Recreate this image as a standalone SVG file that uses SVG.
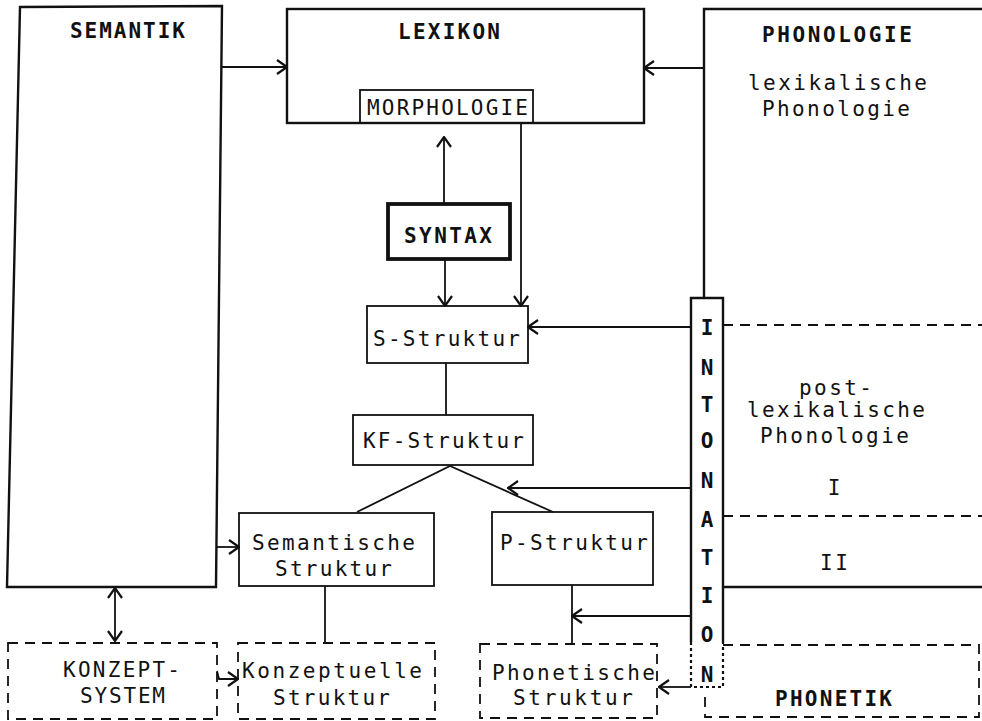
<svg xmlns="http://www.w3.org/2000/svg" width="982" height="721" viewBox="0 0 982 721">
<style>
text{font-family:"DejaVu Sans Mono","Liberation Mono",monospace;font-size:21px;fill:#111}
.b{font-weight:bold}
.box{fill:none;stroke:#111;stroke-width:2.4}
.thin{fill:none;stroke:#111;stroke-width:1.8}
.thick{fill:none;stroke:#111;stroke-width:3.8}
.dash{fill:none;stroke:#111;stroke-width:1.8;stroke-dasharray:10 7}
.dot{fill:none;stroke:#111;stroke-width:2.2;stroke-dasharray:3 3}
.ln{fill:none;stroke:#111;stroke-width:1.8}
.mid{text-anchor:middle}
</style>
<defs>
<marker id="ah" viewBox="0 0 12 16" refX="11" refY="8" markerWidth="12" markerHeight="16" markerUnits="userSpaceOnUse" orient="auto-start-reverse">
<path d="M1,1 L11,8 L1,15" fill="none" stroke="#111" stroke-width="2.2"/>
</marker>
</defs>
<rect width="982" height="721" fill="#fff"/>

<g id="semantik">
<path class="box" d="M20,7 L222,6 L216,587 L7,587 Z"/>
<text class="b" x="70" y="38" textLength="115">SEMANTIK</text>
</g>

<g id="lexikon">
<rect class="box" x="287" y="9" width="357" height="114"/>
<text class="b" x="398" y="39" textLength="102">LEXIKON</text>
</g>

<g id="morphologie">
<rect class="thin" x="360" y="90" width="173" height="33" fill="#fff"/>
<text x="367" y="115" textLength="161">MORPHOLOGIE</text>
</g>

<g id="phonologie">
<path class="box" d="M982,9 L704,9 L704,298"/>
<path class="dash" d="M723,325 L982,325"/>
<path class="dash" d="M723,516 L982,516"/>
<path class="box" d="M723,587 L982,587"/>
<text class="b" x="762" y="42" textLength="150">PHONOLOGIE</text>
<text x="748" y="90" textLength="179">lexikalische</text>
<text x="762" y="116" textLength="148">Phonologie</text>
<text x="799" y="395" textLength="73">post-</text>
<text x="747" y="417" textLength="178">lexikalische</text>
<text x="760" y="443" textLength="149">Phonologie</text>
<text class="mid" x="834" y="495">I</text>
<text x="820" y="570" textLength="28">II</text>
</g>

<g id="intonation">
<path class="box" d="M691,642 L691,298 L723,298 L723,643"/>
<path class="dot" d="M691,642 L691,687 L723,687 L723,643"/>
<text class="b mid" x="707" y="335">I</text>
<text class="b mid" x="707" y="375">N</text>
<text class="b mid" x="707" y="412">T</text>
<text class="b mid" x="707" y="448">O</text>
<text class="b mid" x="707" y="488">N</text>
<text class="b mid" x="707" y="527">A</text>
<text class="b mid" x="707" y="565">T</text>
<text class="b mid" x="707" y="603">I</text>
<text class="b mid" x="707" y="642">O</text>
<text class="b mid" x="707" y="682">N</text>
</g>

<g id="syntax">
<rect class="thick" x="388" y="204" width="122" height="55"/>
<text class="b" x="404" y="243" textLength="88">SYNTAX</text>
</g>

<g id="s-struktur">
<rect class="thin" x="367" y="306" width="161" height="57"/>
<text x="373" y="346" textLength="147">S-Struktur</text>
</g>

<g id="kf-struktur">
<rect class="thin" x="353" y="415" width="180" height="50"/>
<text x="363" y="448" textLength="161">KF-Struktur</text>
</g>

<g id="semantische-struktur">
<rect class="thin" x="239" y="513" width="195" height="73"/>
<text x="252" y="550" textLength="163">Semantische</text>
<text x="275" y="576" textLength="117">Struktur</text>
</g>

<g id="p-struktur">
<rect class="thin" x="492" y="512" width="161" height="73"/>
<text x="500" y="550" textLength="148">P-Struktur</text>
</g>

<g id="konzept-system">
<rect class="dash" x="8" y="643" width="209" height="76"/>
<text x="63" y="677" textLength="117">KONZEPT-</text>
<text x="80" y="703" textLength="85">SYSTEM</text>
</g>

<g id="konzeptuelle-struktur">
<rect class="dash" x="238" y="643" width="197" height="76"/>
<text x="242" y="678" textLength="180">Konzeptuelle</text>
<text x="273" y="705" textLength="117">Struktur</text>
</g>

<g id="phonetische-struktur">
<rect class="dash" x="480" y="644" width="177" height="74"/>
<text x="492" y="680" textLength="163">Phonetische</text>
<text x="513" y="705" textLength="120">Struktur</text>
</g>

<g id="phonetik">
<path class="dash" d="M723,645 L979,645 L979,717 L705,717 L705,690"/>
<text class="b" x="775" y="706" textLength="117">PHONETIK</text>
</g>

<g id="connectors">
<path class="ln" d="M222,67 L287,67" marker-end="url(#ah)"/>
<path class="ln" d="M704,68 L644,68" marker-end="url(#ah)"/>
<path class="ln" d="M444,204 L444,137" marker-end="url(#ah)"/>
<path class="ln" d="M445,259 L445,306" marker-end="url(#ah)"/>
<path class="ln" d="M521,123 L521,306" marker-end="url(#ah)"/>
<path class="ln" d="M691,327 L528,327" marker-end="url(#ah)"/>
<path class="ln" d="M446,363 L446,415"/>
<path class="ln" d="M357,512 L450,466 L553,512"/>
<path class="ln" d="M691,488 L508,488" marker-end="url(#ah)"/>
<path class="ln" d="M216,547 L239,547" marker-end="url(#ah)"/>
<path class="ln" d="M572,585 L572,644"/>
<path class="ln" d="M691,616 L572,616" marker-end="url(#ah)"/>
<path class="ln" d="M325,586 L325,643"/>
<path class="ln" d="M115,588 L115,641" marker-start="url(#ah)" marker-end="url(#ah)"/>
<path class="ln" d="M217,671 L219,679 L238,679" marker-end="url(#ah)"/>
<path class="ln" d="M691,687 L659,687" marker-end="url(#ah)"/>
</g>
</svg>
